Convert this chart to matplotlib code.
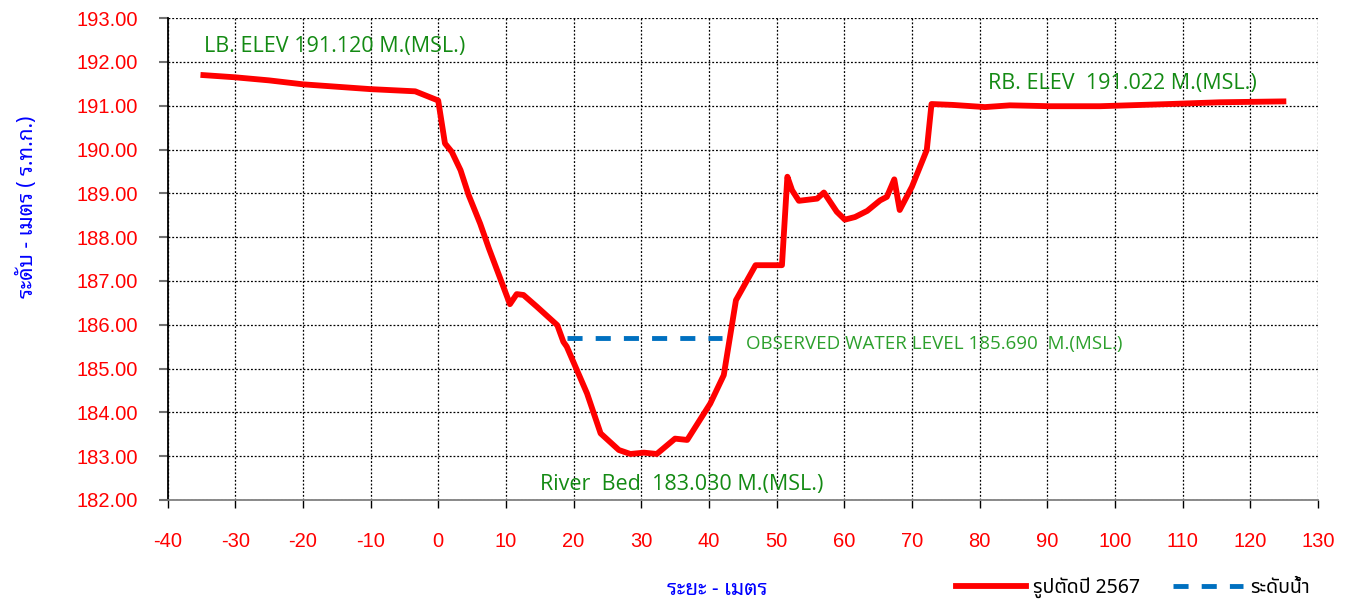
import matplotlib
matplotlib.use("Agg")
import matplotlib.pyplot as plt
from matplotlib.lines import Line2D

# cross-section survey, distance (m) vs elevation (m MSL)
dist = [-34.7, -30.0, -25.0, -20.0, -10.0, -3.4, 0.0, 1.0, 2.0, 3.3, 4.5, 6.2, 7.5,
        10.6, 11.6, 12.6, 14.6, 17.6, 18.5, 19.0, 22.0, 24.0, 26.7, 28.4, 30.4,
        32.3, 35.0, 36.8, 40.2, 42.2, 44.0, 46.9, 49.0, 50.8, 51.6, 52.3, 53.3,
        56.0, 57.0, 58.9, 60.1, 61.6, 63.4, 65.3, 66.3, 67.4, 68.2, 70.0, 72.2,
        72.9, 76.0, 80.8, 84.5, 90.4, 97.8, 108.1, 115.5, 124.9]
elev = [191.70, 191.65, 191.58, 191.49, 191.38, 191.33, 191.12, 190.14, 189.95,
        189.53, 188.96, 188.31, 187.74, 186.47, 186.70, 186.68, 186.41, 185.99,
        185.61, 185.50, 184.43, 183.52, 183.14, 183.05, 183.08, 183.05, 183.40,
        183.37, 184.20, 184.85, 186.56, 187.36, 187.36, 187.36, 189.38, 189.07,
        188.83, 188.88, 189.02, 188.58, 188.40, 188.46, 188.60, 188.84, 188.92,
        189.32, 188.62, 189.15, 189.99, 191.04, 191.02, 190.97, 191.01, 190.99,
        190.99, 191.04, 191.08, 191.10]

water_x = [19.0, 42.0]
water_level = 185.690
lb_elev = 191.120
rb_elev = 191.022
bed_elev = 183.030

plt.rcParams['axes.unicode_minus'] = False
plt.rcParams['font.family'] = ['Liberation Sans', 'DejaVu Sans']

thai_looped = ['Noto Sans Thai Looped', 'DejaVu Sans']
thai_plain = ['Noto Sans Thai', 'DejaVu Sans']

fig, ax = plt.subplots(figsize=(13.51, 6.06), dpi=100)
fig.subplots_adjust(left=0.124, right=0.9755, top=0.970, bottom=0.175)

ax.plot(dist, elev, color='#ff0000', lw=4.2, solid_joinstyle='round', zorder=3)
ax.plot(water_x, [water_level, water_level], color='#0070c0', lw=3.5,
        dashes=(3.1, 2.7), zorder=3)

ax.set_xlim(-40, 130)
ax.set_ylim(182, 193)
ax.set_xticks(range(-40, 131, 10))
ax.set_yticks(range(182, 194))
ax.set_yticklabels(['%.2f' % v for v in range(182, 194)])

ax.grid(True, color='black', ls=(0, (1.5, 1.5)), lw=0.9)
for s in ['top', 'right']:
    ax.spines[s].set_visible(False)
ax.spines['left'].set_color('black')
ax.spines['left'].set_linewidth(1.3)
ax.spines['bottom'].set_color('#808080')
ax.spines['bottom'].set_linewidth(1.3)
ax.tick_params(axis='y', colors='#707070', length=6.5, width=1.5, labelcolor='red',
               labelsize=14.5, pad=15)
ax.tick_params(axis='x', colors='black', length=6, width=1.0, labelcolor='red',
               labelsize=14.5, pad=17)

green = '#138a13'
ax.text(-34.6, 192.35, 'LB. ELEV %.3f M.(MSL.)' % lb_elev, color=green,
        fontsize=15.5, family='Open Sans', va='center', ha='left')
ax.text(81.2, 191.5, 'RB. ELEV  %.3f M.(MSL.)' % rb_elev, color=green,
        fontsize=15.5, family='Open Sans', va='center', ha='left')
ax.text(15.1, 182.36, 'River  Bed  %.3f M.(MSL.)' % bed_elev, color=green,
        fontsize=15.5, family='Open Sans', va='center', ha='left')
ax.text(45.5, 185.55, 'OBSERVED WATER LEVEL %.3f  M.(MSL.)' % water_level,
        color='#2ca02c', fontsize=13.5, family='Open Sans', va='center', ha='left')

fig.text(0.020, 0.658, 'ระดับ - เมตร ( ร.ท.ก.)', rotation=90, color='blue',
         fontsize=15, family=thai_looped, ha='center', va='center')
fig.text(0.531, 0.028, 'ระยะ - เมตร', color='blue', fontsize=15,
         family=thai_looped, ha='center', va='center')

handles = [Line2D([0], [0], color='#ff0000', lw=4.2),
           Line2D([0], [0], color='#0070c0', lw=3.5, dashes=(3.1, 2.7))]
fig.legend(handles, ['รูปตัดปี 2567', 'ระดับน้ำ'], loc='center left',
           bbox_to_anchor=(0.695, 0.030), ncol=2, frameon=False,
           handlelength=3.6, handletextpad=0.35, columnspacing=1.7,
           borderpad=0.4, prop={'family': thai_plain, 'size': 14})

fig.savefig('out.png', dpi=100)
